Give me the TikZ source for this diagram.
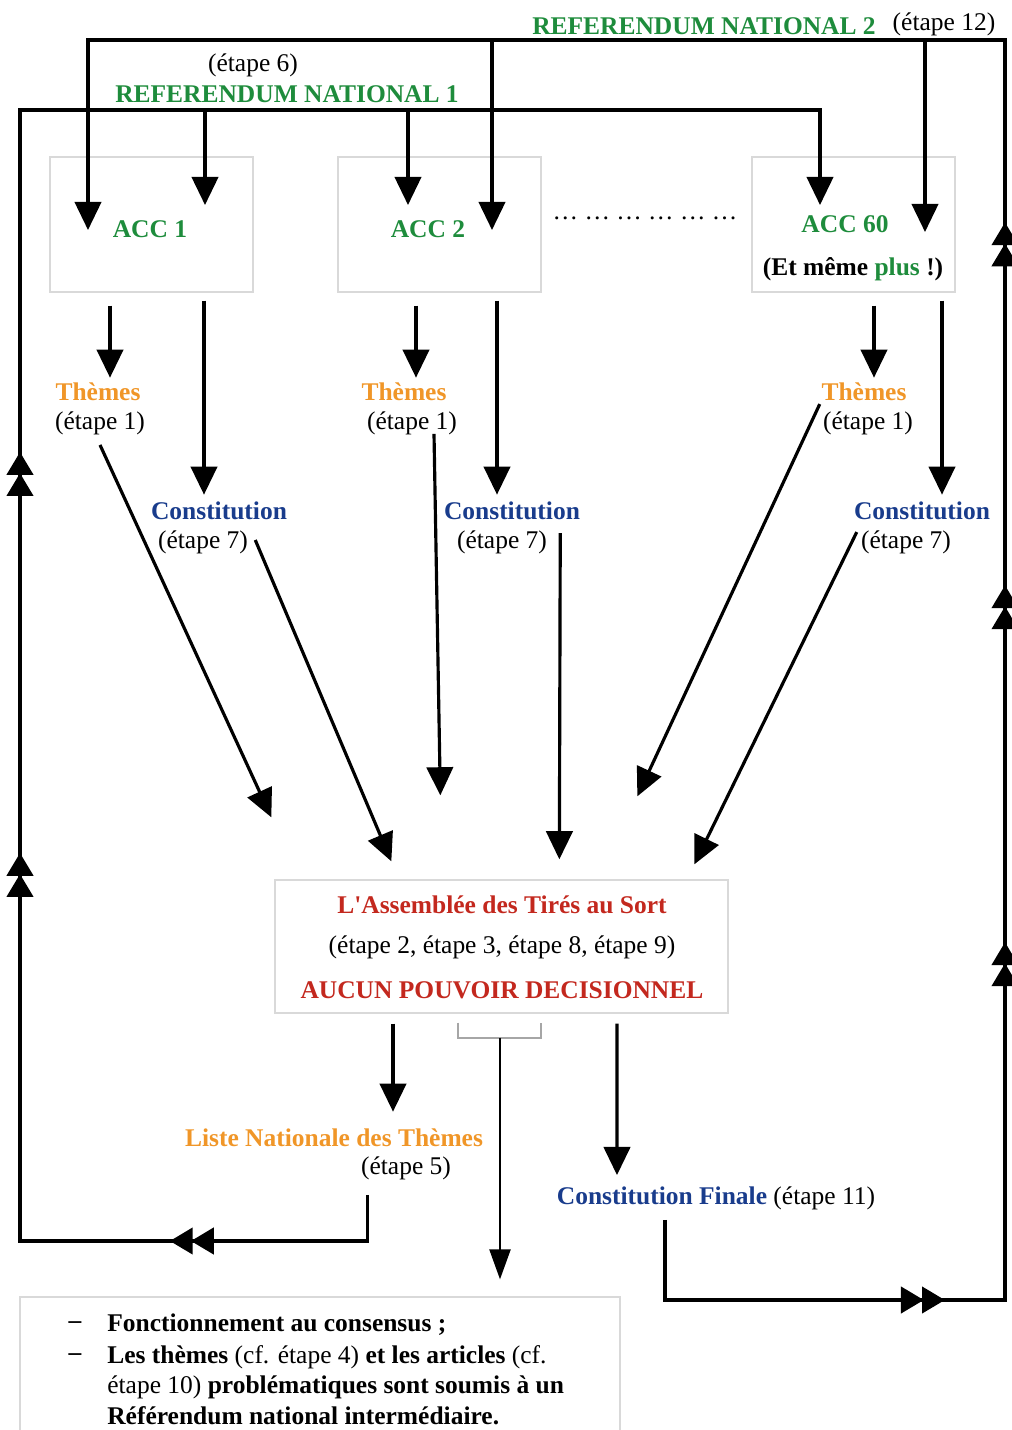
\documentclass[tikz,border=0pt]{standalone}
\usepackage{fontspec}
\setmainfont{Liberation Serif}
\usetikzlibrary{arrows.meta,calc,decorations.markings}

\definecolor{refvert}{RGB}{30,140,60}
\definecolor{theme}{RGB}{240,150,40}
\definecolor{consti}{RGB}{25,60,140}
\definecolor{rouge}{RGB}{195,40,30}

\newcommand\taille{\fontsize{14.5}{17}\selectfont}

\tikzset{
  trait/.style={line width=1.8pt},
  fleche/.style={trait,-{Triangle[width=15pt,length=16pt]}},
  flechefine/.style={line width=1pt,-{Triangle[width=12pt,length=17pt]}},
  doublef/.tip={Triangle[width=15pt,length=13pt,sep=-1pt] Triangle[width=15pt,length=13pt]},
  boite/.style={draw=gray!30,line width=0.8pt,inner sep=0pt},
  cadre/.style={boite,minimum width=4.06cm,minimum height=2.7cm},
  crochet/.style={draw=gray!70,line width=1pt},
  txt/.style={inner sep=0pt,font=\taille},
  gras/.style={inner sep=0pt,font=\taille\bfseries},
}

\begin{document}
\begin{tikzpicture}[x=0.02cm,y=-0.02cm]
\useasboundingbox (0,0) rectangle (1011,1430);

% Referendums
\node[txt] (ref1e) at (253,65) {(étape 6)};
\node[gras,text=refvert] (ref1) at (287,94) {REFERENDUM NATIONAL 1};
\node[gras,text=refvert] (ref2) at (704,26) {REFERENDUM NATIONAL 2};
\node[txt] (ref2e) at (944,24) {(étape 12)};

% Cadres des ACC
\node[cadre] (acc1) at (151.5,224.5) {};
\node[cadre] (acc2) at (439.5,224.5) {};
\node[cadre] (acc60) at (853.5,224.5) {};
\node[gras,text=refvert] (nacc1) at (150,229) {ACC 1};
\node[gras,text=refvert] (nacc2) at (428,229) {ACC 2};
\node[gras,text=refvert] (nacc60) at (845,224) {ACC 60};
\node[gras] (plus) at (853,269) {(Et même \textcolor{refvert}{plus} !)};
\node[txt] (points) at (645,218) {… … … … … …};

% Themes et constitutions
\node[gras,text=theme] (th1) at (98,392) {Thèmes};
\node[txt] (e1a) at (100,423) {(étape 1)};
\node[gras,text=theme] (th2) at (404,392) {Thèmes};
\node[txt] (e1b) at (412,423) {(étape 1)};
\node[gras,text=theme] (th60) at (864,392) {Thèmes};
\node[txt] (e1c) at (868,423) {(étape 1)};
\node[gras,text=consti] (co1) at (219,511) {Constitution};
\node[txt] (e7a) at (203,542) {(étape 7)};
\node[gras,text=consti] (co2) at (512,511) {Constitution};
\node[txt] (e7b) at (502,542) {(étape 7)};
\node[gras,text=consti] (co60) at (922,511) {Constitution};
\node[txt] (e7c) at (906,542) {(étape 7)};

% Assemblee des tires au sort
\node[boite,minimum width=9.06cm,minimum height=2.66cm] (ats) at (501.5,946.5) {};
\node[gras,text=rouge] (ats1) at (502,905) {L\textquotesingle Assemblée des Tirés au Sort};
\node[txt] (ats2) at (502,947) {(étape 2, étape 3, étape 8, étape 9)};
\node[gras,text=rouge] (ats3) at (502,990) {AUCUN POUVOIR DECISIONNEL};

% Sorties
\node[gras,text=theme] (liste) at (334,1138) {Liste Nationale des Thèmes};
\node[txt] (e5) at (406,1168) {(étape 5)};
\node[txt] (cf) at (716,1198) {\textcolor{consti}{\bfseries Constitution Finale} (étape 11)};

% Encadre du bas
\node[boite,minimum width=12cm,minimum height=3cm] (note) at (320,1372) {};
\node[gras] (tiret1) at (75,1325) {–};
\node[gras,anchor=west] (l1) at (107,1325) {Fonctionnement au consensus ;};
\node[gras] (tiret2) at (75,1357) {–};
\node[txt,anchor=west] (l2) at (107,1357) {\textbf{Les thèmes} (cf. étape 4) \textbf{et les articles} (cf.};
\node[txt,anchor=west] (l3) at (107,1387) {étape 10) \textbf{problématiques sont soumis à un}};
\node[gras,anchor=west] (l4) at (107,1416) {Référendum national intermédiaire.};

% Points d'arrivee et coins des boucles
\coordinate (p1a) at (88,230);
\coordinate (p1b) at (205,205);
\coordinate (p2a) at (408,205);
\coordinate (p2b) at (492,230);
\coordinate (p60a) at (820,205);
\coordinate (p60b) at (925,232);
\coordinate (hg) at (20,110);
\coordinate (bg) at (20,1241);
\coordinate (hd) at (1005,40);
\coordinate (bd) at (1005,1300);

% Boucle referendum 1
\draw[fleche,postaction={decorate},decoration={markings,
  mark=at position 4.88cm with {\arrow{doublef}},
  mark=at position 15.64cm with {\arrow{doublef}},
  mark=at position 23.66cm with {\arrow{doublef}}}]
  ($(e5.south west)+(7,15)$) |- (bg) -- (hg) -| (p60a);
\draw[fleche] (hg -| p1b) -- (p1b);
\draw[fleche] (hg -| p2a) -- (p2a);

% Boucle referendum 2
\draw[fleche,postaction={decorate},decoration={markings,
  mark=at position 7.2cm with {\arrow{doublef}},
  mark=at position 15.56cm with {\arrow{doublef}},
  mark=at position 22.7cm with {\arrow{doublef}},
  mark=at position 29.96cm with {\arrow{doublef}}}]
  ($(cf.south)+(-51,10)$) |- (bd) -- (hd) -| (p1a);
\draw[fleche] (hd -| p2b) -- (p2b);
\draw[fleche] (hd -| p60b) -- (p60b);

% Des ACC vers themes et constitutions
\draw[fleche] ($(th1.north |- acc1.south)+(12,13)$) -- ($(th1.north)+(12,-5)$);
\draw[fleche] ($(th2.north |- acc2.south)+(12,13)$) -- ($(th2.north)+(12,-5)$);
\draw[fleche] ($(th60.north |- acc60.south)+(10,13)$) -- ($(th60.north)+(10,-5)$);
\draw[fleche] ($(co1.north |- acc1.south)+(-15,8)$) -- ($(co1.north)+(-15,-7)$);
\draw[fleche] ($(co2.north |- acc2.south)+(-15,8)$) -- ($(co2.north)+(-15,-7)$);
\draw[fleche] ($(co60.north |- acc60.south)+(20,8)$) -- ($(co60.north)+(20,-7)$);

% Vers l'assemblee
\draw[fleche] ($(e1a.south)+(0,10)$) -- ($(ats.north west)+(-3,-62)$);
\draw[fleche] ($(e7a.east)+(7,-2)$) -- ($(ats.north west)+(117,-18)$);
\draw[fleche] ($(e1b.south)+(22,-1)$) -- ($(ats.north west)+(166,-84)$);
\draw[fleche] ($(e7b.east)+(13,-9)$) -- ($(ats.north west)+(285,-20)$);
\draw[fleche] ($(e1c.north west)+(-3,-7)$) -- ($(ats.north west)+(363,-83)$);
\draw[fleche] ($(e7c.north west)+(-4,2)$) -- ($(ats.north west)+(420,-15)$);

% Sorties de l'assemblee
\draw[fleche] ($(ats.south)+(-108.5,10)$) -- ($(liste.north)+(59,-17)$);
\draw[crochet] ($(ats.south)+(-43.5,9)$) |- ($(ats.south)+(39.5,24)$) -- ($(ats.south)+(39.5,9)$);
\draw[flechefine] ($(ats.south)+(-1.5,24)$) -- ($(note.north)+(180,-17)$);
\draw[fleche] ($(ats.south)+(115.5,10)$) -- ($(cf.north)+(-99,-11)$);

\end{tikzpicture}
\end{document}
